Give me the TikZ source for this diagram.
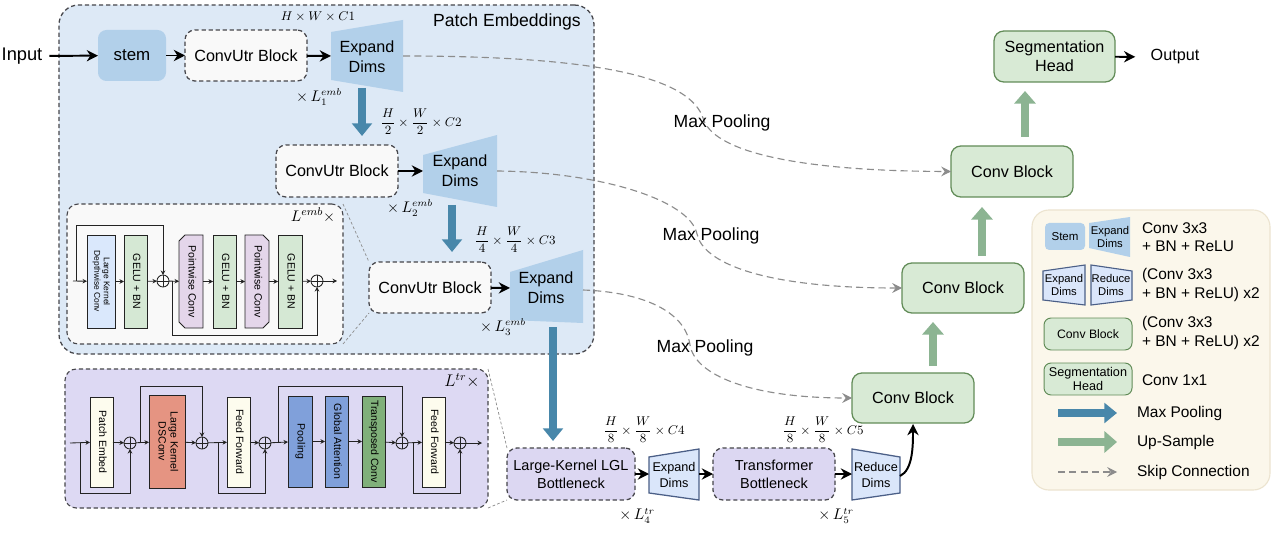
\documentclass[tikz,border=0pt]{standalone}
\usepackage{fontspec}
\usepackage{amsmath}
\setmainfont{Liberation Sans}
\usetikzlibrary{arrows.meta}

\definecolor{pebg}{RGB}{221,233,246}
\definecolor{stemc}{RGB}{178,208,234}
\definecolor{blk}{RGB}{35,35,35}
\definecolor{dashc}{RGB}{70,70,75}
\definecolor{utrfill}{RGB}{249,249,249}
\definecolor{bnfill}{RGB}{220,215,242}
\definecolor{trbg}{RGB}{221,217,243}
\definecolor{dimfill}{RGB}{218,230,250}
\definecolor{dimdraw}{RGB}{75,95,135}
\definecolor{grfill}{RGB}{216,234,213}
\definecolor{grdraw}{RGB}{98,140,88}
\definecolor{bluearrow}{RGB}{72,135,170}
\definecolor{greenarrow}{RGB}{140,180,146}
\definecolor{skipc}{RGB}{140,140,140}
\definecolor{legfill}{RGB}{251,247,235}
\definecolor{legdraw}{RGB}{236,228,208}
\definecolor{lkfill}{RGB}{218,232,252}
\definecolor{gelufill}{RGB}{213,232,212}
\definecolor{pwfill}{RGB}{228,214,234}
\definecolor{pefill}{RGB}{253,252,238}
\definecolor{dsfill}{RGB}{229,148,130}
\definecolor{poolfill}{RGB}{128,160,218}
\definecolor{tcfill}{RGB}{128,176,122}

\newcommand\fs[2]{\fontsize{#1}{#2}\selectfont}
\newcommand\rot[1]{\rotatebox{-90}{\begin{tabular}{@{}c@{}}#1\end{tabular}}}
% box from corner (x1,y1) to (x2,y2) in pixel units
\newcommand\bx[7]{\node[#1, minimum width={(#5-#3)*0.025cm}, minimum height={(#6-#4)*0.025cm}] (#2) at ({(#3+#5)/2},{(#4+#6)/2}) {#7};}

\begin{document}
\begin{tikzpicture}[x=0.025cm,y=-0.025cm,
  every node/.style={inner sep=0pt, outer sep=0pt},
  fitbox/.style={inner sep=0pt, align=center},
  dsh/.style={dash pattern=on 3pt off 2pt},
  pebox/.style={fitbox, draw=dashc, dsh, line width=0.9pt, fill=pebg, rounded corners=14pt},
  utr/.style={fitbox, draw=dashc, dsh, line width=0.9pt, fill=utrfill, rounded corners=7pt, font=\fs{11.5}{14}},
  stembox/.style={fitbox, fill=stemc, rounded corners=6pt, font=\fs{12}{14}},
  bneck/.style={utr, fill=bnfill, font=\fs{10.3}{13}},
  gbox/.style={fitbox, draw=grdraw, line width=0.9pt, fill=grfill, rounded corners=7pt, font=\fs{11.5}{13.5}},
  ibox/.style={inner sep=0pt, draw=blk, line width=0.5pt, font=\fs{7.5}{8.5}},
  tbox/.style={inner sep=0pt},
  plus/.style={circle, draw=blk, line width=0.6pt, minimum size=0.3cm,
    path picture={\draw[line width=0.6pt] (path picture bounding box.north) -- (path picture bounding box.south)
      (path picture bounding box.west) -- (path picture bounding box.east);}},
  arr/.style={-{Stealth[length=8pt,width=8pt]}, line width=1.4pt, black},
  tarr/.style={-{Stealth[length=3.2pt,width=3.2pt]}, line width=0.6pt, blk},
  tline/.style={line width=0.6pt, blk},
  bluearr/.style={-{Triangle[length=9pt,width=14pt]}, line width=6pt, bluearrow},
  greenarr/.style={-{Triangle[length=9pt,width=15pt]}, line width=6pt, greenarrow},
  skip/.style={-{Stealth[length=7pt,width=7pt,inset=2.5pt]}, dash pattern=on 5pt off 3pt, line width=0.8pt, skipc},
  thin/.style={dash pattern=on 2pt off 1.5pt, line width=0.5pt, skipc},
  mlbl/.style={font=\fs{9.5}{11}},
  xlbl/.style={font=\fs{10.5}{12}},
  dimtxt/.style={font=\fs{11.5}{14}, align=center},
  legtxt/.style={font=\fs{11}{13}, align=left, anchor=west},
]
\useasboundingbox (0,0) rectangle (1280,544);
\fill[white] (0,0) rectangle (1280,544);

% ---------------- Patch embeddings ----------------
\bx{pebox}{pe}{59}{5}{594}{354}{}
\node[font=\fs{12.5}{15}] (petitle) at (507,22) {Patch Embeddings};

\node[font=\fs{13}{15}] (input) at (22,56) {Input};
\bx{stembox}{stem}{98}{30}{166}{81}{stem}
\bx{utr}{cu1}{185}{30}{307}{81}{ConvUtr Block}
\fill[stemc] (331,32) -- (403,20) -- (403,92) -- (331,80) -- cycle;
\node[dimtxt] (ed1) at (367,57) {Expand\\Dims};
\coordinate (ed1w) at (331,56); \coordinate (ed1e) at (403,56);
\coordinate (ed1s) at (362,88); \coordinate (cu2t) at (362,136);
\node[mlbl] (l1) at (318,17) {$H\times W\times C1$};
\node[xlbl] (x1) at (319,97) {$\times\,L_1^{emb}$};

\bx{utr}{cu2}{276}{145}{398}{197}{ConvUtr Block}
\fill[stemc] (423,155) -- (497,135) -- (497,207) -- (423,193) -- cycle;
\node[dimtxt] (ed2) at (460,171) {Expand\\Dims};
\coordinate (ed2w) at (423,171); \coordinate (ed2e) at (497,171);
\coordinate (ed2s) at (452,205); \coordinate (cu3t) at (452,252);
\node[mlbl] (l2) at (421,122) {$\displaystyle\frac{H}{2}\times\frac{W}{2}\times C2$};
\node[xlbl] (x2) at (410,208) {$\times\,L_2^{emb}$};

\bx{utr}{cu3}{369}{262}{491}{313}{ConvUtr Block}
\fill[stemc] (510,272) -- (583,250) -- (583,323) -- (510,320) -- cycle;
\node[dimtxt] (ed3) at (546,288) {Expand\\Dims};
\coordinate (ed3w) at (510,288); \coordinate (ed3e) at (583,290);
\coordinate (ed3s) at (553,327); \coordinate (lglt) at (553,441);
\node[mlbl] (l3) at (515,240) {$\displaystyle\frac{H}{4}\times\frac{W}{4}\times C3$};
\node[xlbl] (x3) at (503,327) {$\times\,L_3^{emb}$};

\draw[arr, shorten <=5pt] (input) -- (stem);
\draw[arr] (stem) -- (cu1);
\draw[arr] (cu1) -- (ed1w);
\draw[arr] (cu2) -- (ed2w);
\draw[arr] (cu3) -- (ed3w);
\draw[bluearr] (ed1s) -- (cu2t);
\draw[bluearr] (ed2s) -- (cu3t);

% ---------------- ConvUtr detail ----------------
\bx{fitbox, draw=dashc, dsh, line width=0.8pt, fill=utrfill, rounded corners=8pt}{ub}{67}{204}{343}{344}{}
\node[font=\fs{11}{13}] (ubl) at (313,215) {$L^{emb}\times$};
\draw[thin] (ub.north east) -- (cu3.north west);
\draw[thin] (ub.south east) -- (cu3.south west);

\coordinate (ui) at (73,281);
\bx{ibox, fill=lkfill, font=\fs{6}{6.8}}{lk}{87}{235}{115}{328}{\rot{Large Kernel\\Depthwise Conv}}
\bx{ibox, fill=gelufill}{g1}{124}{235}{147}{328}{\rot{GELU + BN}}
\node[plus] (p1) at (163,281) {};
\draw[tline, fill=pwfill] (185,235) -- (203,235) -- (203,328) -- (185,328) -- (179,322) -- (179,241) -- cycle;
\bx{tbox, font=\fs{7.5}{8.5}}{pw1}{179}{235}{203}{328}{\rot{Pointwise Conv}}
\bx{ibox, fill=gelufill}{g2}{213}{235}{236}{328}{\rot{GELU + BN}}
\draw[tline, fill=pwfill] (245,235) -- (263,235) -- (269,241) -- (269,322) -- (263,328) -- (245,328) -- cycle;
\bx{tbox, font=\fs{7.5}{8.5}}{pw2}{245}{235}{269}{328}{\rot{Pointwise Conv}}
\bx{ibox, fill=gelufill}{g3}{278}{235}{302}{328}{\rot{GELU + BN}}
\node[plus] (p2) at (317,281) {};
\coordinate (uo) at (337,281);
\draw[tarr] (ui) -- (lk);
\draw[tarr] (lk) -- (g1);
\draw[tarr] (g1) -- (p1);
\draw[tarr] (p1) -- (pw1);
\draw[tarr] (pw1) -- (g2);
\draw[tarr] (g2) -- (pw2);
\draw[tarr] (pw2) -- (g3);
\draw[tarr] (g3) -- (p2);
\draw[tarr] (p2) -- (uo);
\draw[tarr] (76,281) -- (76,225) -| (p1.north);
\draw[tarr] (172,281) -- (172,335) -| (p2.south);

% ---------------- Transformer detail ----------------
\bx{fitbox, draw=dashc, dsh, line width=0.8pt, fill=trbg, rounded corners=8pt}{tb}{65}{369}{488}{508}{}
\node[font=\fs{11.5}{13}] (tbl) at (462,381) {$L^{tr}\times$};

\coordinate (ti) at (70,443);
\bx{ibox, fill=pefill}{pe1}{90}{397}{113}{487}{\rot{Patch Embed}}
\node[plus] (q1) at (130,443) {};
\bx{ibox, fill=dsfill}{ds}{149}{395}{185}{488}{\rot{Large Kernel\\DSConv}}
\node[plus] (q2) at (202,443) {};
\bx{ibox, fill=pefill}{ff1}{227}{397}{250}{487}{\rot{Feed Forward}}
\node[plus] (q3) at (265,443) {};
\bx{ibox, fill=poolfill}{pool}{288}{396}{312}{487}{\rot{Pooling}}
\bx{ibox, fill=poolfill}{ga}{325}{396}{348}{487}{\rot{Global Attention}}
\bx{ibox, fill=tcfill}{tc}{362}{396}{385}{487}{\rot{Transposed Conv}}
\node[plus] (q4) at (402,443) {};
\bx{ibox, fill=pefill}{ff2}{422}{397}{445}{487}{\rot{Feed Forward}}
\node[plus] (q5) at (460,443) {};
\coordinate (to) at (482,443);
\draw[tarr] (ti) -- (pe1);
\draw[tarr] (pe1) -- (q1);
\draw[tarr] (q1) -- (ds);
\draw[tarr] (ds) -- (q2);
\draw[tarr] (q2) -- (ff1);
\draw[tarr] (ff1) -- (q3);
\draw[tarr] (q3) -- (pool);
\draw[tarr] (pool) -- (ga);
\draw[tarr] (ga) -- (tc);
\draw[tarr] (tc) -- (q4);
\draw[tarr] (q4) -- (ff2);
\draw[tarr] (ff2) -- (q5);
\draw[tarr] (q5) -- (to);
\draw[tarr] (80,443) -- (80,493) -| (q1.south);
\draw[tarr] (140,443) -- (140,386) -| (q2.north);
\draw[tarr] (218,443) -- (218,493) -| (q3.south);
\draw[tarr] (278,443) -- (278,386) -| (q4.north);
\draw[tarr] (413,443) -- (413,493) -| (q5.south);

% ---------------- Bottleneck row ----------------
\bx{bneck}{lgl}{507}{448}{635}{500}{Large-Kernel LGL\\Bottleneck}
\draw[thin] (tb.north east) -- (lgl.north west);
\draw[thin] (tb.south east) -- (lgl.south west);
\draw[line width=0.9pt, draw=dimdraw, fill=dimfill] (649,457) -- (699,449) -- (699,500) -- (649,493) -- cycle;
\node[font=\fs{9}{11}, align=center] (ed4) at (674,475) {Expand\\Dims};
\coordinate (ed4w) at (649,474); \coordinate (ed4e) at (699,474);
\bx{bneck}{trb}{713}{448}{835}{500}{Transformer\\Bottleneck}
\draw[line width=0.9pt, draw=dimdraw, fill=dimfill] (852,449) -- (900,457) -- (900,493) -- (852,500) -- cycle;
\node[font=\fs{9}{11}, align=center] (rd) at (876,475) {Reduce\\Dims};
\coordinate (rdw) at (852,474); \coordinate (rde) at (900,476);
\node[mlbl] (l4) at (644,430) {$\displaystyle\frac{H}{8}\times\frac{W}{8}\times C4$};
\node[mlbl] (l5) at (823,430) {$\displaystyle\frac{H}{8}\times\frac{W}{8}\times C5$};
\node[xlbl] (x4) at (637,516) {$\times\,L_4^{tr}$};
\node[xlbl] (x5) at (836,516) {$\times\,L_5^{tr}$};
\draw[bluearr] (ed3s) -- (lglt);
\draw[arr] (lgl) -- (ed4w);
\draw[arr] (ed4e) -- (trb);
\draw[arr] (trb) -- (rdw);

% ---------------- Decoder ----------------
\bx{gbox}{cb1}{852}{373}{974}{423}{Conv Block}
\bx{gbox}{cb2}{902}{263}{1024}{313}{Conv Block}
\bx{gbox}{cb3}{951}{146}{1073}{197}{Conv Block}
\bx{gbox}{seg}{994}{31}{1115}{82}{Segmentation\\Head}
\node[font=\fs{11.5}{14}] (out) at (1175,57) {Output};
\draw[arr, shorten >=11pt] (seg) -- (out);
\coordinate (cb1in) at (913,424);
\draw[arr] (rde) .. controls (913,470) and (913,445) .. (cb1in);
\draw[greenarr] (933,366) -- (933,322);
\draw[greenarr] (982,256) -- (982,207);
\draw[greenarr] (1025,137) -- (1025,91);

% skip connections
\draw[skip] (ed1e) .. controls (610,56) and (690,80) .. (703,118)
  .. controls (712,150) and (790,171) .. (cb3.west);
\draw[skip] (ed2e) .. controls (600,172) and (690,200) .. (697,234)
  .. controls (703,262) and (760,288) .. (cb2.west);
\draw[skip] (ed3e) .. controls (640,292) and (685,310) .. (690,345)
  .. controls (695,375) and (750,398) .. (cb1.west);
\node[font=\fs{12.5}{15}] (mp1) at (722,123) {Max Pooling};
\node[font=\fs{12.5}{15}] (mp2) at (711,236) {Max Pooling};
\node[font=\fs{12.5}{15}] (mp3) at (705,348) {Max Pooling};

% ---------------- Legend ----------------
\bx{fitbox, draw=legdraw, line width=0.8pt, fill=legfill, rounded corners=12pt}{leg}{1032}{210}{1270}{490}{}
\bx{stembox, font=\fs{8.2}{10}, rounded corners=3pt}{lstem}{1045}{223}{1085}{250}{Stem}
\fill[stemc] (1089,223) -- (1130,217) -- (1130,257) -- (1089,248) -- cycle;
\node[font=\fs{8}{9.5}, align=center] (led) at (1110,237) {Expand\\Dims};
\node[legtxt] (lt1) at (1142,237) {Conv 3x3\\+ BN + ReLU};

\draw[line width=0.8pt, draw=dimdraw, fill=dimfill] (1043,271) -- (1085,265) -- (1085,305) -- (1043,300) -- cycle;
\node[font=\fs{8}{9.5}, align=center] (led2) at (1064,285) {Expand\\Dims};
\draw[line width=0.8pt, draw=dimdraw, fill=dimfill] (1091,265) -- (1132,271) -- (1132,300) -- (1091,305) -- cycle;
\node[font=\fs{8}{9.5}, align=center] (lrd) at (1111,285) {Reduce\\Dims};
\node[legtxt] (lt2) at (1142,285) {(Conv 3x3\\+ BN + ReLU) x2};

\bx{gbox, font=\fs{8.7}{10}, rounded corners=5pt, line width=0.7pt}{lcb}{1044}{318}{1132}{350}{Conv Block}
\node[legtxt] (lt3) at (1142,333) {(Conv 3x3\\+ BN + ReLU) x2};

\bx{gbox, font=\fs{9}{10.5}, rounded corners=5pt, line width=0.7pt}{lsh}{1044}{363}{1132}{395}{Segmentation\\Head}
\node[legtxt] (lt4) at (1142,380) {Conv 1x1};

\coordinate (lb1) at (1058,413); \coordinate (lb2) at (1117,413);
\draw[bluearr] (lb1) -- (lb2);
\node[legtxt] (lt5) at (1137,413) {Max Pooling};
\coordinate (lg1) at (1058,442); \coordinate (lg2) at (1117,442);
\draw[greenarr] (lg1) -- (lg2);
\node[legtxt] (lt6) at (1137,442) {Up-Sample};
\coordinate (ls1) at (1058,472); \coordinate (ls2) at (1117,472);
\draw[skip] (ls1) -- (ls2);
\node[legtxt] (lt7) at (1137,472) {Skip Connection};
\end{tikzpicture}
\end{document}
